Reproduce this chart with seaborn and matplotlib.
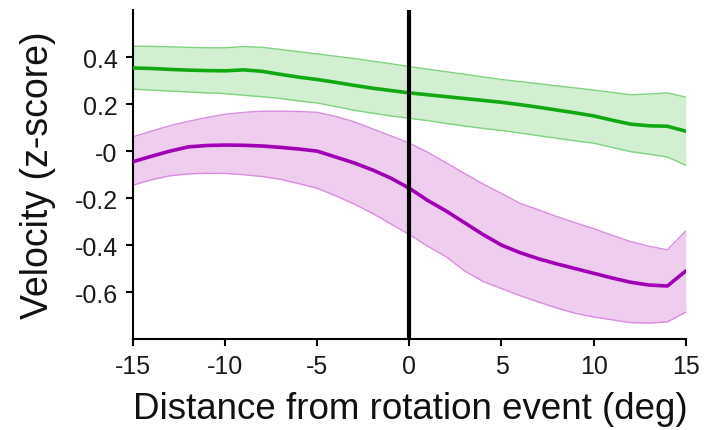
import numpy as np
import pandas as pd
import matplotlib
matplotlib.use("Agg")
import matplotlib.pyplot as plt
import seaborn as sns

x = list(range(-15, 16))

green_mean = [0.354, 0.352, 0.348, 0.345, 0.343, 0.342, 0.346, 0.340, 0.327, 0.315,
              0.305, 0.293, 0.280, 0.268, 0.258, 0.248, 0.240, 0.232, 0.224, 0.216,
              0.208, 0.198, 0.187, 0.175, 0.163, 0.150, 0.132, 0.115, 0.108, 0.106, 0.085]
green_upper = [0.447, 0.446, 0.444, 0.442, 0.440, 0.440, 0.445, 0.442, 0.433, 0.423,
               0.414, 0.404, 0.394, 0.383, 0.372, 0.360, 0.349, 0.338, 0.327, 0.316,
               0.305, 0.296, 0.287, 0.278, 0.269, 0.260, 0.250, 0.240, 0.243, 0.248, 0.230]
green_lower = [0.264, 0.260, 0.256, 0.252, 0.248, 0.245, 0.238, 0.232, 0.224, 0.214,
               0.205, 0.190, 0.174, 0.162, 0.150, 0.140, 0.130, 0.118, 0.107, 0.097,
               0.088, 0.077, 0.066, 0.055, 0.044, 0.034, 0.016, -0.002, -0.013, -0.025, -0.060]

purple_mean = [-0.045, -0.022, 0.000, 0.018, 0.024, 0.026, 0.025, 0.022, 0.016, 0.009,
               0.000, -0.025, -0.050, -0.080, -0.115, -0.158, -0.210, -0.255, -0.305, -0.355,
               -0.400, -0.432, -0.458, -0.480, -0.500, -0.520, -0.540, -0.558, -0.570, -0.574, -0.510]
purple_upper = [0.061, 0.085, 0.108, 0.127, 0.143, 0.157, 0.165, 0.170, 0.170, 0.169,
                0.165, 0.148, 0.125, 0.095, 0.065, 0.034, -0.005, -0.050, -0.095, -0.140,
                -0.180, -0.222, -0.250, -0.278, -0.305, -0.330, -0.358, -0.385, -0.405, -0.420, -0.340]
purple_lower = [-0.145, -0.122, -0.105, -0.097, -0.094, -0.095, -0.100, -0.108, -0.120, -0.138,
                -0.158, -0.190, -0.225, -0.265, -0.310, -0.355, -0.405, -0.450, -0.510, -0.555,
                -0.585, -0.615, -0.642, -0.668, -0.690, -0.706, -0.718, -0.730, -0.732, -0.727, -0.685]

yticks = [0.4, 0.2, 0.0, -0.2, -0.4, -0.6]
ytick_labels = ["0.4", "0.2", "-0", "-0.2", "-0.4", "-0.6"]
xticks = [-15, -10, -5, 0, 5, 10, 15]
xtick_labels = ["-15", "-10", "-5", "0", "5", "10", "15"]

sns.set_style("ticks")
plt.rcParams["font.family"] = ["Liberation Sans", "DejaVu Sans"]

df = pd.DataFrame({
    "x": x + x,
    "y": green_mean + purple_mean,
    "group": ["green"] * len(x) + ["purple"] * len(x),
})

fig = plt.figure(figsize=(7.07, 4.31), dpi=100)
ax = fig.add_axes([0.188, 0.211, 0.782, 0.763])

styles = {
    "green": dict(line="#12a812", fill="#d2efd2", edge="#7fd27f",
                  lo=green_lower, hi=green_upper),
    "purple": dict(line="#a000b4", fill="#efcdef", edge="#d98ee0",
                   lo=purple_lower, hi=purple_upper),
}
for g, s in styles.items():
    ax.fill_between(x, s["lo"], s["hi"], color=s["fill"], lw=0, zorder=1)
    ax.plot(x, s["lo"], color=s["edge"], lw=1.0, zorder=2)
    ax.plot(x, s["hi"], color=s["edge"], lw=1.0, zorder=2)

sns.lineplot(data=df, x="x", y="y", hue="group",
             palette={"green": styles["green"]["line"], "purple": styles["purple"]["line"]},
             linewidth=2.6, legend=False, ax=ax, zorder=3)

ax.axvline(0, color="black", lw=3, zorder=4)

ax.set_xlim(-15, 15)
ax.set_ylim(-0.80, 0.60)
ax.set_xticks(xticks)
ax.set_xticklabels(xtick_labels)
ax.set_yticks(yticks)
ax.set_yticklabels(ytick_labels)
ax.tick_params(axis="both", labelsize=18, length=5, width=1.5, color="black",
               labelcolor="#1a1a1a", pad=6)
for sp in ["top", "right"]:
    ax.spines[sp].set_visible(False)
for sp in ["left", "bottom"]:
    ax.spines[sp].set_linewidth(1.5)
    ax.spines[sp].set_color("black")

ax.set_xlabel("Distance from rotation event (deg)", fontsize=26.5, color="#111111", labelpad=9)
ax.xaxis.label.set_x(0.502)
ax.set_ylabel("Velocity (z-score)", fontsize=27, color="#111111", labelpad=13)

fig.savefig("out.png", dpi=100)
